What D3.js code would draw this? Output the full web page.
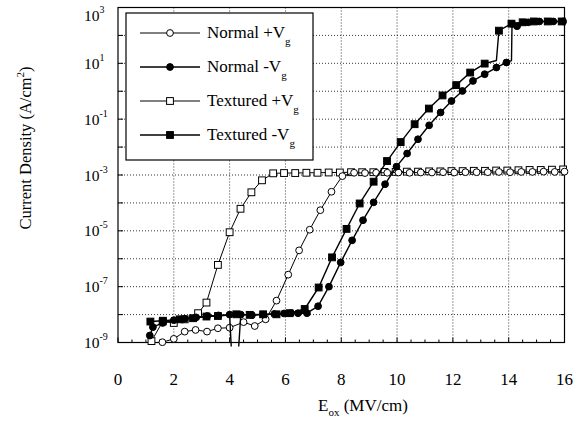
<!DOCTYPE html>
<html>
<head>
<meta charset="utf-8">
<script src="https://cdn.jsdelivr.net/npm/d3@7"></script>
<style>
    body { margin: 0; background: #fff; }
    svg { font-family: "Liberation Serif", "Times New Roman", serif; }
</style>
</head>
<body>
<div id="chart"></div>
<script>
// values: E_ox in MV/cm, current density as log10(J [A/cm2])
const normalPosE = [1.59, 2.0, 2.39, 2.78, 3.19, 3.58, 4.0, 4.5, 4.9, 5.29, 5.68, 6.1, 6.49, 6.87, 7.25, 7.65, 8.04,
    8.46, 8.85, 9.25, 9.65, 10.05, 10.45, 10.85, 11.25, 11.65, 12.05, 12.45, 12.85, 13.25, 13.65, 14.05, 14.45, 14.85, 15.25, 15.65, 16.0];
const normalPosLogJ = [-8.99, -8.87, -8.61, -8.55, -8.61, -8.49, -8.47, -8.27, -8.41, -8.17, -7.5, -6.57, -5.70, -4.96, -4.26, -3.60, -3.04,
    -2.92, -2.93, -2.92, -2.92, -2.91, -2.92, -2.91, -2.91, -2.90, -2.91, -2.90, -2.90, -2.90, -2.89, -2.90, -2.89, -2.89, -2.88, -2.89, -2.88];

const normalNegE = [1.14, 1.25, 1.6, 2.0, 2.4, 2.8, 3.2, 3.6, 4.0, 4.1, 4.27, 4.4, 4.8, 5.2, 5.6, 5.95, 6.2, 6.45, 6.77, 7.17, 7.56,
    7.98, 8.39, 8.78, 9.16, 9.57, 9.98, 10.36, 10.75, 11.15, 11.56, 11.95, 12.34, 12.72, 13.14, 13.56, 13.92, 14.1, 14.12, 14.3, 14.7, 15.1, 15.6, 15.95];
const normalNegLogJ = [-8.75, -8.45, -8.3, -8.2, -8.15, -8.1, -8.05, -8.03, -8.0, -10, -10, -8.0, -8.02, -8.0, -7.98, -7.96, -7.95, -7.95, -7.95, -7.7, -7.0,
    -6.13, -5.34, -4.62, -3.98, -3.33, -2.70, -2.23, -1.72, -1.22, -0.76, -0.35, 0.01, 0.37, 0.61, 0.85, 1.03, 1.1, 2.42, 2.33, 2.47, 2.5, 2.5, 2.5];
const normalNegNoMark = [4.1, 4.27, 14.1];

const texturedPosE = [1.2, 1.6, 2.0, 2.39, 2.87, 3.17, 3.58, 4.0, 4.39, 4.78, 5.16, 5.56, 5.95, 6.35, 6.75, 7.15, 7.55, 7.95, 8.35, 8.75,
    9.15, 9.55, 9.95, 10.35, 10.75, 11.15, 11.55, 11.95, 12.35, 12.75, 13.15, 13.55, 13.95, 14.35, 14.75, 15.15, 15.55, 15.95];
const texturedPosLogJ = [-8.95, -8.25, -8.3, -8.17, -7.95, -7.57, -6.22, -5.05, -4.21, -3.62, -3.19, -2.94, -2.93, -2.93, -2.92, -2.92, -2.91, -2.91, -2.90, -2.90,
    -2.90, -2.89, -2.89, -2.88, -2.88, -2.87, -2.87, -2.86, -2.86, -2.85, -2.85, -2.84, -2.84, -2.83, -2.82, -2.82, -2.81, -2.80];

const texturedNegE = [1.16, 1.61, 2.21, 2.69, 3.17, 3.58, 4.24, 4.72, 5.2, 5.68, 6.15, 6.69, 7.19, 7.67, 8.19, 8.66, 9.16, 9.64,
    10.13, 10.63, 11.14, 11.63, 12.12, 12.62, 13.14, 13.56, 13.65, 14.1, 14.5, 14.9, 15.4, 15.9];
const texturedNegLogJ = [-8.25, -8.22, -8.17, -8.13, -8.07, -8.05, -7.99, -8.01, -7.99, -7.99, -7.95, -7.8, -7.03, -5.95, -4.93, -4.02, -3.24, -2.5,
    -1.82, -1.18, -0.62, -0.15, 0.22, 0.67, 0.99, 1.1, 2.17, 2.42, 2.47, 2.5, 2.5, 2.5];
const texturedNegNoMark = [13.56];

const legendNames = ["Normal +V", "Normal -V", "Textured +V", "Textured -V"];
const xTicks = [0, 2, 4, 6, 8, 10, 12, 14, 16];
const yTickExps = [-9, -7, -5, -3, -1, 1, 3];

class IVChart {

    constructor(_parentElement) {
        this.parentElement = _parentElement;
        this.series = [
            {name: legendNames[2], e: texturedPosE, logJ: texturedPosLogJ, skip: [], shape: "square", filled: false, width: 1},
            {name: legendNames[0], e: normalPosE, logJ: normalPosLogJ, skip: [], shape: "circle", filled: false, width: 1},
            {name: legendNames[1], e: normalNegE, logJ: normalNegLogJ, skip: normalNegNoMark, shape: "circle", filled: true, width: 1.4},
            {name: legendNames[3], e: texturedNegE, logJ: texturedNegLogJ, skip: texturedNegNoMark, shape: "square", filled: true, width: 1.4}
        ];
        this.initVis();
    }

    initVis() {
        let vis = this;

        vis.width = 577;
        vis.height = 429;
        vis.left = 118;
        vis.right = 564.5;
        vis.top = 7.5;
        vis.bottom = 342.5;

        vis.svg = d3.select("#" + vis.parentElement).append("svg")
            .attr("width", vis.width)
            .attr("height", vis.height);

        vis.xScale = d3.scaleLinear()
            .domain([0, 16])
            .range([vis.left, vis.right]);

        vis.yScale = d3.scaleLog()
            .domain([1e-9, 1e3])
            .range([vis.bottom, vis.top]);

        // dotted grid
        let grid = vis.svg.append("g")
            .attr("stroke", "#222")
            .attr("stroke-width", 0.9)
            .attr("stroke-dasharray", "1,2");

        grid.selectAll(".gx")
            .data(xTicks.slice(1, -1))
            .join("line")
            .attr("x1", d => vis.xScale(d)).attr("x2", d => vis.xScale(d))
            .attr("y1", vis.top).attr("y2", vis.bottom);

        grid.selectAll(".gy")
            .data(d3.range(-8, 3))
            .join("line")
            .attr("x1", vis.left).attr("x2", vis.right)
            .attr("y1", d => vis.yScale(Math.pow(10, d))).attr("y2", d => vis.yScale(Math.pow(10, d)));

        // ticks, inward
        let ticks = vis.svg.append("g")
            .attr("stroke", "#000")
            .attr("stroke-width", 1);

        ticks.selectAll(".tx")
            .data(d3.range(0, 16.01, 0.5))
            .join("line")
            .attr("x1", d => vis.xScale(d)).attr("x2", d => vis.xScale(d))
            .attr("y1", vis.bottom)
            .attr("y2", d => vis.bottom - (d % 2 === 0 ? 5 : 3));

        ticks.selectAll(".ty")
            .data(d3.range(-9, 4))
            .join("line")
            .attr("x1", vis.left).attr("x2", vis.left + 5)
            .attr("y1", d => vis.yScale(Math.pow(10, d))).attr("y2", d => vis.yScale(Math.pow(10, d)));

        ticks.selectAll(".tyr")
            .data(d3.range(-9, 4))
            .join("line")
            .attr("x1", vis.right).attr("x2", vis.right - 4)
            .attr("y1", d => vis.yScale(Math.pow(10, d))).attr("y2", d => vis.yScale(Math.pow(10, d)));

        // frame
        vis.svg.append("rect")
            .attr("x", vis.left).attr("y", vis.top)
            .attr("width", vis.right - vis.left)
            .attr("height", vis.bottom - vis.top)
            .attr("fill", "none")
            .attr("stroke", "#000")
            .attr("stroke-width", 1.2);

        // tick labels
        vis.svg.append("g")
            .attr("font-size", 17)
            .attr("text-anchor", "middle")
            .selectAll("text")
            .data(xTicks)
            .join("text")
            .attr("x", d => vis.xScale(d))
            .attr("y", 385)
            .text(d => d);

        let yl = vis.svg.append("g")
            .attr("font-size", 15.5)
            .selectAll("text")
            .data(yTickExps)
            .join("text")
            .attr("x", 84)
            .attr("y", d => Math.max(21, vis.yScale(Math.pow(10, d)) + 5.5));
        yl.append("tspan").text("10");
        yl.append("tspan").attr("font-size", 10).attr("dy", -8).text(d => d);

        // axis titles
        let xt = vis.svg.append("text")
            .attr("x", 318)
            .attr("y", 411)
            .attr("font-size", 17);
        xt.append("tspan").text("E");
        xt.append("tspan").attr("font-size", 11).attr("dy", 5).text("ox");
        xt.append("tspan").attr("dy", -5).text(" (MV/cm)");

        let yt = vis.svg.append("text")
            .attr("transform", "translate(31,148) rotate(-90)")
            .attr("text-anchor", "middle")
            .attr("font-size", 16.5);
        yt.append("tspan").text("Current Density (A/cm");
        yt.append("tspan").attr("font-size", 11).attr("dy", -7).text("2");
        yt.append("tspan").attr("dy", 7).text(")");

        vis.svg.append("clipPath")
            .attr("id", "plotclip")
            .append("rect")
            .attr("x", vis.left - 6).attr("y", vis.top - 6)
            .attr("width", vis.right - vis.left + 12)
            .attr("height", vis.bottom - vis.top + 10);

        vis.marks = vis.svg.append("g")
            .attr("clip-path", "url(#plotclip)");

        vis.wrangleData();
    }

    wrangleData() {
        let vis = this;

        vis.series.forEach(s => {
            s.points = s.e.map((e, i) => ({e: e, j: Math.pow(10, s.logJ[i]), mark: !s.skip.includes(e)}));
        });

        vis.updateVis();
    }

    drawMarker(sel, s, cx, cy) {
        if (s.shape === "circle") {
            sel.append("circle")
                .attr("cx", cx).attr("cy", cy).attr("r", 3.4)
                .attr("fill", s.filled ? "#000" : "#fff")
                .attr("stroke", "#000").attr("stroke-width", 1);
        } else {
            sel.append("rect")
                .attr("x", cx - 3.4).attr("y", cy - 3.4)
                .attr("width", 6.8).attr("height", 6.8)
                .attr("fill", s.filled ? "#000" : "#fff")
                .attr("stroke", "#000").attr("stroke-width", 1);
        }
    }

    updateVis() {
        let vis = this;

        vis.line = d3.line()
            .x(d => vis.xScale(d.e))
            .y(d => vis.yScale(d.j));

        vis.series.forEach(s => {
            let g = vis.marks.append("g");
            g.append("path")
                .attr("d", vis.line(s.points))
                .attr("fill", "none")
                .attr("stroke", "#000")
                .attr("stroke-width", s.width)
                .attr("stroke-linejoin", "round");
            s.points.filter(p => p.mark).forEach(p => {
                vis.drawMarker(g, s, vis.xScale(p.e), vis.yScale(p.j));
            });
        });

        // legend
        let lg = vis.svg.append("g");
        lg.append("rect")
            .attr("x", 126).attr("y", 13)
            .attr("width", 187).attr("height", 147)
            .attr("fill", "#fff")
            .attr("stroke", "#000")
            .attr("stroke-width", 1.2);

        let order = [1, 2, 0, 3];
        order.forEach((k, i) => {
            let s = vis.series[k];
            let y = 33 + i * 34;
            lg.append("line")
                .attr("x1", 140).attr("x2", 200)
                .attr("y1", y).attr("y2", y)
                .attr("stroke", "#000")
                .attr("stroke-width", s.width);
            vis.drawMarker(lg, s, 170, y);
            let t = lg.append("text")
                .attr("x", 207)
                .attr("y", y + 5)
                .attr("font-size", 17);
            t.append("tspan").text(s.name);
            t.append("tspan").attr("font-size", 11).attr("dy", 7).text("g");
        });
    }
}

new IVChart("chart");
</script>
</body>
</html>
